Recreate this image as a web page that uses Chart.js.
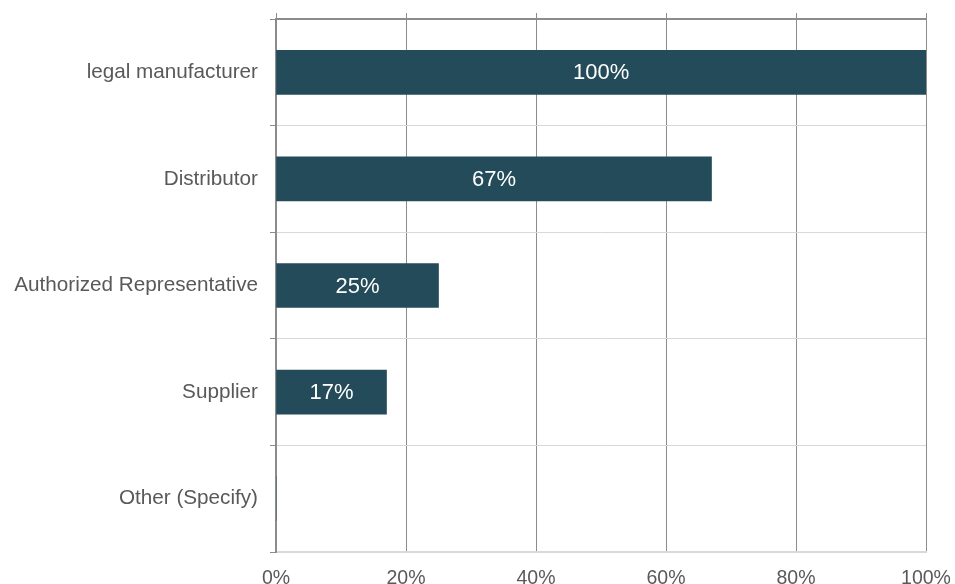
<!DOCTYPE html>
<html>
<head>
<meta charset="utf-8">
<script src="https://cdn.jsdelivr.net/npm/chart.js@4"></script>
<style>
  html, body { margin: 0; padding: 0; background: #fff; }
  #wrap { width: 955px; height: 584px; position: relative; }
</style>
</head>
<body>
<div id="wrap"><canvas id="roles"></canvas></div>
<script>
// Share of respondents by role
const ROLES = ['legal manufacturer', 'Distributor', 'Authorized Representative', 'Supplier', 'Other (Specify)'];
const SHARE = [100, 67, 25, 17, 0];
const PCT_TICKS = [0, 20, 40, 60, 80, 100];

const BAR_COLOR = '#244b59';
const GRID_DARK = '#8c8c8c';
const GRID_LIGHT = '#d9d9d9';
const TEXT_COLOR = '#595959';
const FONT = 'Liberation Sans, Arial, sans-serif';

// white percentage text in the middle of each bar
const barLabels = {
  id: 'barLabels',
  afterDatasetsDraw(chart) {
    const { ctx } = chart;
    const meta = chart.getDatasetMeta(0);
    ctx.save();
    ctx.fillStyle = '#ffffff';
    ctx.font = '22px ' + FONT;
    ctx.textAlign = 'center';
    ctx.textBaseline = 'middle';
    meta.data.forEach((bar, i) => {
      const v = SHARE[i];
      if (!v) return;
      ctx.fillText(v + '%', (bar.base + bar.x) / 2, bar.y + 1);
    });
    ctx.restore();
  }
};

// keep label overhang from shrinking the plot area
const noOverhang = s => {
  s.paddingLeft = s.paddingRight = s.paddingTop = s.paddingBottom = 0;
};

new Chart(document.getElementById('roles'), {
  type: 'bar',
  data: {
    labels: ROLES,
    datasets: [{
      data: SHARE,
      backgroundColor: BAR_COLOR,
      borderWidth: 0,
      barThickness: 44
    }]
  },
  options: {
    indexAxis: 'y',
    responsive: true,
    maintainAspectRatio: false,
    animation: false,
    layout: { padding: { top: 13, right: 29, left: 0, bottom: 0 } },
    plugins: {
      legend: { display: false },
      tooltip: { enabled: false }
    },
    scales: {
      x: {
        position: 'bottom',
        min: 0, max: 100,
        afterBuildTicks: s => { s.ticks = PCT_TICKS.map(v => ({ value: v })); },
        grid: { color: GRID_DARK, lineWidth: 1, drawTicks: false },
        border: { color: GRID_LIGHT, width: 2 },
        ticks: {
          color: TEXT_COLOR,
          font: { family: FONT, size: 19.5 },
          padding: 15,
          maxRotation: 0,
          callback: v => v + '%'
        },
        afterFit: s => { noOverhang(s); s.height = 32; }
      },
      xTop: {
        position: 'top',
        axis: 'x',
        min: 0, max: 100,
        afterBuildTicks: s => { s.ticks = PCT_TICKS.map(v => ({ value: v })); },
        grid: { drawOnChartArea: false, color: GRID_DARK, tickLength: 6 },
        border: { color: GRID_DARK, width: 2 },
        ticks: { display: false },
        afterFit: s => { noOverhang(s); s.height = 6; }
      },
      y: {
        offset: true,
        grid: { offset: true, color: GRID_LIGHT, tickColor: GRID_DARK, tickLength: 6 },
        border: { color: GRID_DARK, width: 2 },
        ticks: {
          color: TEXT_COLOR,
          font: { family: FONT, size: 20.7 },
          padding: 12
        },
        afterFit: s => { noOverhang(s); s.width = 276; }
      }
    }
  },
  plugins: [barLabels]
});
</script>
</body>
</html>
